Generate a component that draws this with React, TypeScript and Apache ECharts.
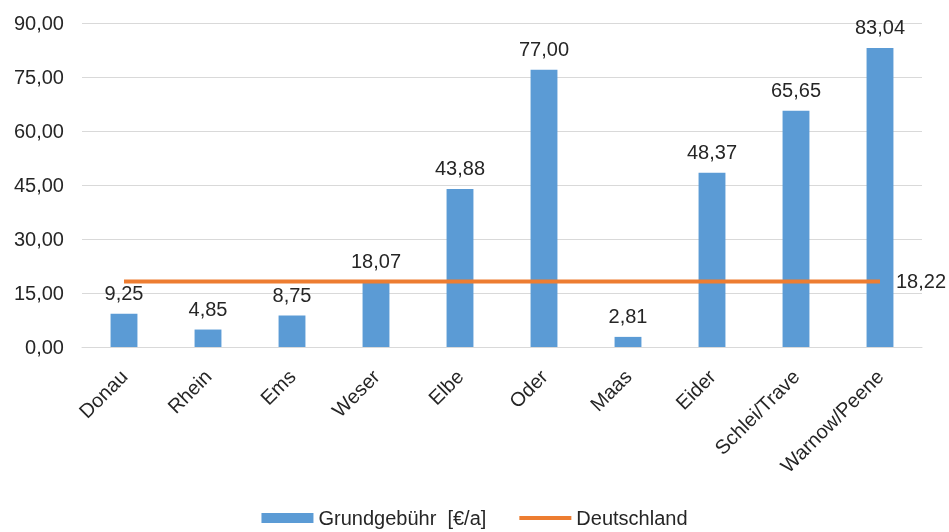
import React, { useEffect, useRef } from "react";
import * as echarts from "echarts";

const categories = ["Donau", "Rhein", "Ems", "Weser", "Elbe", "Oder", "Maas", "Eider", "Schlei/Trave", "Warnow/Peene"];
const grundgebuehr = [9.25, 4.85, 8.75, 18.07, 43.88, 77.0, 2.81, 48.37, 65.65, 83.04];
const deutschland = [18.22, 18.22, 18.22, 18.22, 18.22, 18.22, 18.22, 18.22, 18.22, 18.22];
const seriesNames = ["Grundgebühr  [€/a]", "Deutschland"];

const fmt = (v: number) => v.toFixed(2).replace(".", ",");
const FONT = "'Liberation Sans', Arial, sans-serif";
const TXT = "#262626";
const FS = 20;

export default function App() {
  const ref = useRef<HTMLDivElement>(null);
  useEffect(() => {
    if (!ref.current) return;
    const chart = echarts.init(ref.current, undefined, { renderer: "svg" });
    chart.setOption({
      animation: false,
      textStyle: { fontFamily: FONT },
      grid: { left: 82, right: 27, top: 23, bottom: 185, containLabel: false },
      legend: {
        bottom: 4,
        left: "center",
        padding: 0,
        itemGap: 33,
        itemWidth: 52,
        itemHeight: 10,
        textStyle: { fontSize: FS, color: TXT, fontFamily: FONT },
        data: [
          { name: seriesNames[0], icon: "rect" },
          { name: seriesNames[1], icon: "path://M0,0L52,0M0,3H52V7H0ZM0,10L52,10" },
        ],
      },
      xAxis: {
        type: "category",
        data: categories,
        axisLine: { lineStyle: { color: "#d9d9d9", width: 1 } },
        axisTick: { show: false },
        axisLabel: { rotate: 45, fontSize: FS, color: TXT, fontFamily: FONT, margin: 26, interval: 0 },
      },
      yAxis: {
        type: "value",
        min: 0,
        max: 90,
        interval: 15,
        axisLine: { show: false },
        axisTick: { show: false },
        splitLine: { lineStyle: { color: "#d9d9d9", width: 1 } },
        axisLabel: { fontSize: FS, color: TXT, fontFamily: FONT, margin: 18, formatter: (v: number) => fmt(v) },
      },
      series: [
        {
          name: seriesNames[0],
          type: "bar",
          data: grundgebuehr,
          barWidth: "32%",
          itemStyle: { color: "#5B9BD5" },
          label: {
            show: true,
            position: "top",
            distance: 11,
            fontSize: FS,
            color: TXT,
            fontFamily: FONT,
            formatter: (p: any) => fmt(p.value),
          },
        },
        {
          name: seriesNames[1],
          type: "line",
          data: deutschland,
          symbol: "none",
          lineStyle: { color: "#ED7D31", width: 4 },
          itemStyle: { color: "#ED7D31" },
          endLabel: {
            show: true,
            distance: 16,
            fontSize: FS,
            color: TXT,
            fontFamily: FONT,
            formatter: (p: any) => fmt(p.value),
          },
          z: 3,
        },
      ],
    });
    return () => chart.dispose();
  }, []);
  return <div ref={ref} style={{ position: "fixed", left: 0, top: 0, width: 949, height: 532 }} />;
}
